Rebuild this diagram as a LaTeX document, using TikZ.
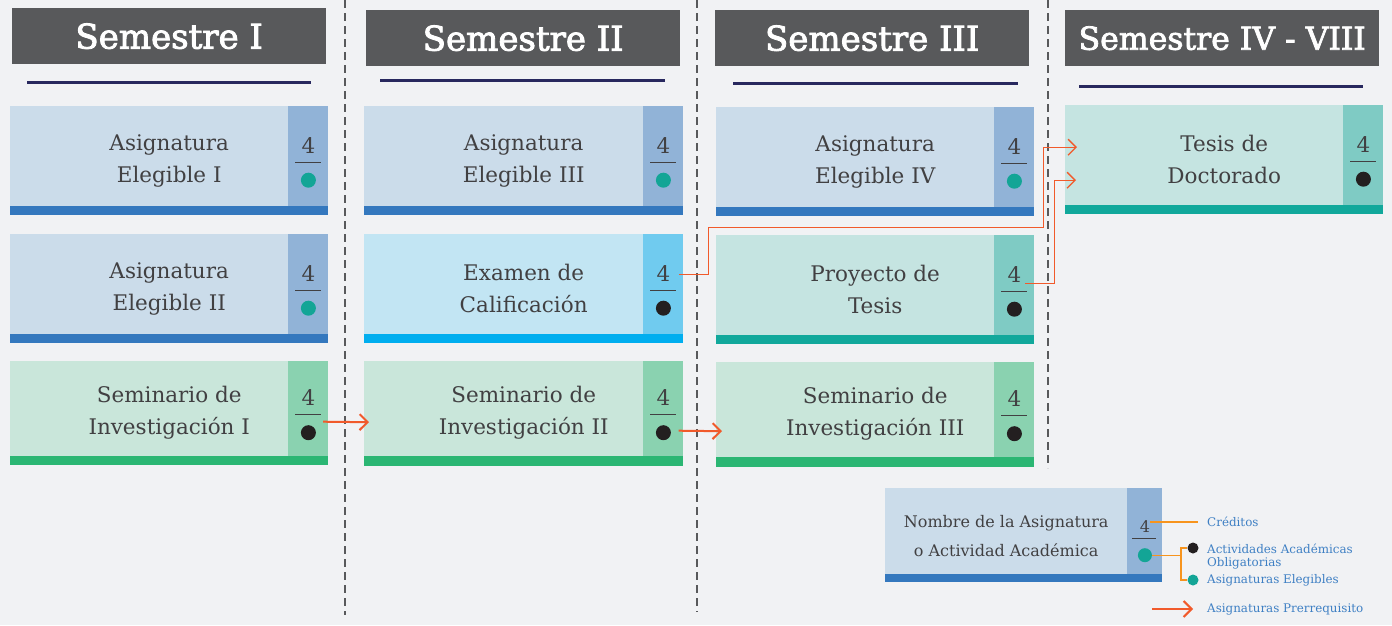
\documentclass[tikz,border=0pt]{standalone}
\usepackage{fontspec}
\usetikzlibrary{arrows.meta,calc}

\newfontfamily\cardfont{DejaVu Serif}
\newfontfamily\headfont[FakeBold=2.5]{DejaVu Serif}

\definecolor{bgcol}{HTML}{F1F2F4}
\definecolor{headgray}{HTML}{58595B}
\definecolor{navy}{HTML}{28285E}
\definecolor{cardtext}{HTML}{414042}
\definecolor{asigbody}{HTML}{CBDCEA}
\definecolor{asigpanel}{HTML}{91B3D7}
\definecolor{asigbar}{HTML}{3478BE}
\definecolor{exbody}{HTML}{C2E5F3}
\definecolor{expanel}{HTML}{70CBEF}
\definecolor{exbar}{HTML}{00AEEF}
\definecolor{sembody}{HTML}{C9E6DA}
\definecolor{sempanel}{HTML}{8AD2B0}
\definecolor{sembar}{HTML}{2BB673}
\definecolor{tesbody}{HTML}{C5E4E1}
\definecolor{tespanel}{HTML}{7FCBC4}
\definecolor{tesbar}{HTML}{11A89B}
\definecolor{tealdot}{HTML}{13A596}
\definecolor{blackdot}{HTML}{231F20}
\definecolor{arrowcol}{HTML}{F15A2B}
\definecolor{legorange}{HTML}{F7941D}
\definecolor{legblue}{HTML}{3F80C4}

\begin{document}
\begin{tikzpicture}[x=1pt,y=-1pt,
        head/.style={fill=headgray, text=white, anchor=north west, inner sep=0pt,
            minimum width=314pt, minimum height=56pt,
            font=\headfont\fontsize{34}{40}\selectfont},
        card/.style={anchor=north west, inner sep=0pt, minimum width=318pt,
            minimum height=100pt},
        cardlabel/.style={inner sep=0pt, align=center, text=cardtext,
            font=\cardfont\fontsize{21.5}{32}\selectfont},
        credit/.style={anchor=base, inner sep=0pt, text=cardtext,
            font=\cardfont\fontsize{21.5}{32}\selectfont},
        fracline/.style={draw=cardtext, line width=1.3pt},
        obdot/.style={circle, fill=blackdot, inner sep=0pt, minimum size=15pt},
        eldot/.style={circle, fill=tealdot, inner sep=0pt, minimum size=15pt},
        semline/.style={draw=navy, line width=3pt},
        colsep/.style={draw=headgray, line width=1.2pt, dash pattern=on 8pt off 5pt},
        prereq/.style={draw=arrowcol, line width=2pt,
            -{Straight Barb[length=8pt,width=16pt]}},
        prereqthin/.style={prereq, line width=1.3pt},
        legline/.style={draw=legorange, line width=1.4pt},
        legtext/.style={inner sep=0pt, text=legblue,
            font=\cardfont\fontsize{11.9}{13}\selectfont}]

        \useasboundingbox (0,0) rectangle (1392,625);
        \fill [bgcol] (0,0) rectangle (1392,625);

        % separators

        \draw [colsep] (345,0) -- (345,615);
        \draw [colsep] (697,0) -- (697,612);
        \draw [colsep] (1048,0) -- (1048,468);

        % headers

        \node [head] (h1) at (12,8) {Semestre I};
        \node [head] (h2) at (366,10) {Semestre II};
        \node [head] (h3) at (715,10) {Semestre III};
        \node [head, font=\headfont\fontsize{31.5}{36}\selectfont] (h4) at (1065,10) {Semestre IV - VIII};

        \draw [semline] (27,82) -- (311,82);
        \draw [semline] (380,80) -- (665,80);
        \draw [semline] (733,83) -- (1018,83);
        \draw [semline] (1079,86) -- (1363,86);

        % Semestre I

        \node [card, fill=asigbody] (ae1) at (10,106) {};
        \node [cardlabel] (ae1t) at ([yshift=-4.5pt]ae1.center) {Asignatura\\Elegible I};
        \fill [asigpanel] ([xshift=-40pt]ae1.north east) rectangle (ae1.south east);
        \fill [asigbar] (ae1.south west) rectangle ([yshift=-9pt]ae1.south east);
        \node [credit] (ae1n) at ([xshift=-20pt,yshift=3pt]ae1.east) {4};
        \draw [fracline] ([xshift=-33pt,yshift=-6pt]ae1.east) -- ([xshift=-7pt,yshift=-6pt]ae1.east);
        \node [eldot] (ae1d) at ([xshift=-20pt,yshift=-24pt]ae1.east) {};

        \node [card, fill=asigbody] (ae2) at (10,234) {};
        \node [cardlabel] (ae2t) at ([yshift=-4.5pt]ae2.center) {Asignatura\\Elegible II};
        \fill [asigpanel] ([xshift=-40pt]ae2.north east) rectangle (ae2.south east);
        \fill [asigbar] (ae2.south west) rectangle ([yshift=-9pt]ae2.south east);
        \node [credit] (ae2n) at ([xshift=-20pt,yshift=3pt]ae2.east) {4};
        \draw [fracline] ([xshift=-33pt,yshift=-6pt]ae2.east) -- ([xshift=-7pt,yshift=-6pt]ae2.east);
        \node [eldot] (ae2d) at ([xshift=-20pt,yshift=-24pt]ae2.east) {};

        \node [card, fill=sembody, minimum height=95pt] (si1) at (10,361) {};
        \node [cardlabel] (si1t) at ([yshift=-4.5pt]si1.center) {Seminario de\\Investigación I};
        \fill [sempanel] ([xshift=-40pt]si1.north east) rectangle (si1.south east);
        \fill [sembar] (si1.south west) rectangle ([yshift=-9pt]si1.south east);
        \node [credit] (si1n) at ([xshift=-20pt,yshift=3pt]si1.east) {4};
        \draw [fracline] ([xshift=-33pt,yshift=-6pt]si1.east) -- ([xshift=-7pt,yshift=-6pt]si1.east);
        \node [obdot] (si1d) at ([xshift=-20pt,yshift=-24pt]si1.east) {};

        % Semestre II

        \node [card, fill=asigbody, minimum width=319pt] (ae3) at (364,106) {};
        \node [cardlabel] (ae3t) at ([yshift=-4.5pt]ae3.center) {Asignatura\\Elegible III};
        \fill [asigpanel] ([xshift=-40pt]ae3.north east) rectangle (ae3.south east);
        \fill [asigbar] (ae3.south west) rectangle ([yshift=-9pt]ae3.south east);
        \node [credit] (ae3n) at ([xshift=-20pt,yshift=3pt]ae3.east) {4};
        \draw [fracline] ([xshift=-33pt,yshift=-6pt]ae3.east) -- ([xshift=-7pt,yshift=-6pt]ae3.east);
        \node [eldot] (ae3d) at ([xshift=-20pt,yshift=-24pt]ae3.east) {};

        \node [card, fill=exbody, minimum width=319pt] (ex) at (364,234) {};
        \node [cardlabel] (ext) at ([yshift=-4.5pt]ex.center) {Examen de\\Calificación};
        \fill [expanel] ([xshift=-40pt]ex.north east) rectangle (ex.south east);
        \fill [exbar] (ex.south west) rectangle ([yshift=-9pt]ex.south east);
        \node [credit] (exn) at ([xshift=-20pt,yshift=3pt]ex.east) {4};
        \draw [fracline] ([xshift=-33pt,yshift=-6pt]ex.east) -- ([xshift=-7pt,yshift=-6pt]ex.east);
        \node [obdot] (exd) at ([xshift=-20pt,yshift=-24pt]ex.east) {};

        \node [card, fill=sembody, minimum width=319pt, minimum height=95pt] (si2) at (364,361) {};
        \node [cardlabel] (si2t) at ([yshift=-4.5pt]si2.center) {Seminario de\\Investigación II};
        \fill [sempanel] ([xshift=-40pt]si2.north east) rectangle (si2.south east);
        \fill [sembar] (si2.south west) rectangle ([yshift=-10pt]si2.south east);
        \node [credit] (si2n) at ([xshift=-20pt,yshift=3pt]si2.east) {4};
        \draw [fracline] ([xshift=-33pt,yshift=-6pt]si2.east) -- ([xshift=-7pt,yshift=-6pt]si2.east);
        \node [obdot] (si2d) at ([xshift=-20pt,yshift=-24pt]si2.east) {};

        % Semestre III

        \node [card, fill=asigbody] (ae4) at (716,107) {};
        \node [cardlabel] (ae4t) at ([yshift=-4.5pt]ae4.center) {Asignatura\\Elegible IV};
        \fill [asigpanel] ([xshift=-40pt]ae4.north east) rectangle (ae4.south east);
        \fill [asigbar] (ae4.south west) rectangle ([yshift=-9pt]ae4.south east);
        \node [credit] (ae4n) at ([xshift=-20pt,yshift=3pt]ae4.east) {4};
        \draw [fracline] ([xshift=-33pt,yshift=-6pt]ae4.east) -- ([xshift=-7pt,yshift=-6pt]ae4.east);
        \node [eldot] (ae4d) at ([xshift=-20pt,yshift=-24pt]ae4.east) {};

        \node [card, fill=tesbody] (pt) at (716,235) {};
        \node [cardlabel] (ptt) at ([yshift=-4.5pt]pt.center) {Proyecto de\\Tesis};
        \fill [tespanel] ([xshift=-40pt]pt.north east) rectangle (pt.south east);
        \fill [tesbar] (pt.south west) rectangle ([yshift=-9pt]pt.south east);
        \node [credit] (ptn) at ([xshift=-20pt,yshift=3pt]pt.east) {4};
        \draw [fracline] ([xshift=-33pt,yshift=-6pt]pt.east) -- ([xshift=-7pt,yshift=-6pt]pt.east);
        \node [obdot] (ptd) at ([xshift=-20pt,yshift=-24pt]pt.east) {};

        \node [card, fill=sembody, minimum height=95pt] (si3) at (716,362) {};
        \node [cardlabel] (si3t) at ([yshift=-4.5pt]si3.center) {Seminario de\\Investigación III};
        \fill [sempanel] ([xshift=-40pt]si3.north east) rectangle (si3.south east);
        \fill [sembar] (si3.south west) rectangle ([yshift=-10pt]si3.south east);
        \node [credit] (si3n) at ([xshift=-20pt,yshift=3pt]si3.east) {4};
        \draw [fracline] ([xshift=-33pt,yshift=-6pt]si3.east) -- ([xshift=-7pt,yshift=-6pt]si3.east);
        \node [obdot] (si3d) at ([xshift=-20pt,yshift=-24pt]si3.east) {};

        % Semestre IV - VIII

        \node [card, fill=tesbody] (td) at (1065,105) {};
        \node [cardlabel] (tdt) at ([yshift=-4.5pt]td.center) {Tesis de\\Doctorado};
        \fill [tespanel] ([xshift=-40pt]td.north east) rectangle (td.south east);
        \fill [tesbar] (td.south west) rectangle ([yshift=-9pt]td.south east);
        \node [credit] (tdn) at ([xshift=-20pt,yshift=3pt]td.east) {4};
        \draw [fracline] ([xshift=-33pt,yshift=-6pt]td.east) -- ([xshift=-7pt,yshift=-6pt]td.east);
        \node [obdot] (tdd) at ([xshift=-20pt,yshift=-24pt]td.east) {};

        % prerrequisitos

        \draw [prereq] ($(si1d.east)+(7,-11)$) -- ($(si2.west)+(5,13.5)$);
        \draw [prereq] ($(si2d.east)+(7.5,-2)$) -- ($(si3.west)+(6,21.5)$);
        \draw [prereqthin] ($(ex.east)+(-4,-10)$) -- ++(29,0) |- ++(335,-47) |- ($(td.west)+(12,-8)$);
        \draw [prereqthin] ($(pt.east)+(-9,-2)$) -- ++(29,0) |- ($(td.west)+(11,25)$);

        % leyenda

        \node [card, fill=asigbody, minimum width=242pt, minimum height=86pt] (lg) at (885,488) {};
        \node [cardlabel, font=\cardfont\fontsize{16}{29}\selectfont] (lgt) at ([yshift=-5pt]lg.center) {Nombre de la Asignatura\\o Actividad Académica};
        \fill [asigpanel] (lg.north east) rectangle ($(lg.south east)+(35,0)$);
        \fill [asigbar] (lg.south west) rectangle ($(lg.south east)+(35,8)$);
        \node [credit, font=\cardfont\fontsize{16}{20}\selectfont] (lgn) at ($(lg.east)+(17.5,1)$) {4};
        \draw [fracline, line width=1.1pt] ($(lg.east)+(5,7)$) -- ($(lg.east)+(29,7)$);
        \node [eldot, minimum size=14pt] (lgd) at ($(lg.east)+(17.5,24)$) {};

        \node [legtext, anchor=west] (cred) at (1207,522) {Créditos};
        \draw [legline, shorten >=9pt] (cred.west -| lgn.east) -- (cred.west);

        \node [obdot, minimum size=11pt] (obd) at (1193,548) {};
        \node [eldot, minimum size=11pt] (eld) at (1193,580) {};
        \draw [legline] (lgd.east) -- ++(29,0) coordinate (br);
        \draw [legline] (obd.west) -| (br) |- (eld.west);

        \node [legtext, anchor=north west, align=left] (oblig) at (1207,544) {Actividades Académicas\\Obligatorias};
        \node [legtext, anchor=base west] (elig) at (1207,583) {Asignaturas Elegibles};
        \node [legtext, anchor=base west] (prq) at (1207,612) {Asignaturas Prerrequisito};

        \coordinate (prqa) at (1152,609);
        \draw [prereq, shorten >=14pt] (prqa) -- (prqa -| prq.west);

    \end{tikzpicture}
\end{document}
